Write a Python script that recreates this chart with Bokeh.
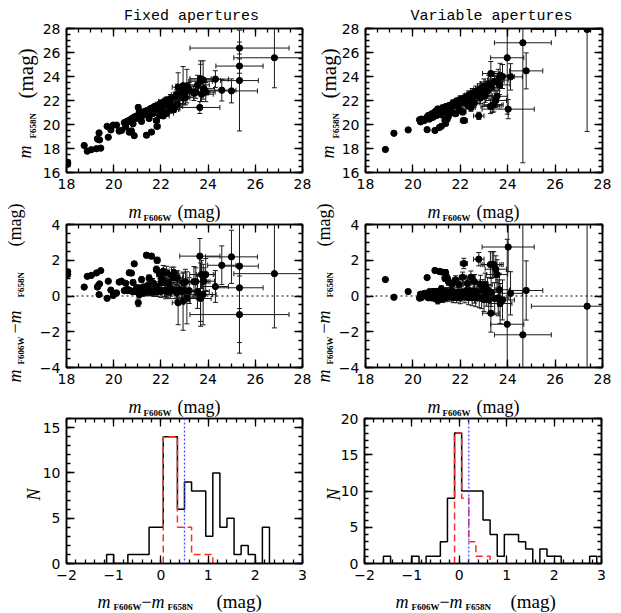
import numpy as np
from bokeh.plotting import figure
from bokeh.models import Label, LinearAxis, SingleIntervalTicker, Span, Range1d
from bokeh.embed import file_html
from bokeh.resources import INLINE

# ---------------- data: fixed apertures ----------------
fixed_m606 = [18.05, 18.05, 18.75, 18.88, 19.05, 19.27, 19.45, 19.33, 19.40, 19.38, 19.31, 19.72, 19.77, 19.88, 19.98, 20.12, 20.23, 20.33, 20.51, 20.45,
              20.51, 20.61, 20.66, 20.75, 20.87, 20.82, 20.97, 21.04, 21.08, 21.18, 21.28, 21.39, 21.60, 21.84, 21.50, 21.70, 21.81, 21.95, 22.10, 22.24, 22.03, 22.20, 22.38, 22.52, 22.55,
              20.60, 20.70, 20.80, 20.90, 21.00, 21.10, 21.15, 21.20, 21.25, 21.30, 21.35, 21.40, 21.45, 21.55, 21.60, 21.65, 21.75, 21.80, 21.85, 21.90, 22.00, 22.05, 22.15, 22.25, 22.30, 22.40, 22.45, 22.60, 22.70, 22.80, 22.90, 23.00, 22.95,
              22.66, 22.73, 22.87, 22.94, 23.04, 23.10, 23.48, 23.65, 23.72, 23.79, 23.68, 23.82, 23.90, 23.68, 24.31, 24.58, 24.99, 25.33, 25.33, 25.33, 26.81, 23.40, 23.55, 22.35, 23.20]
fixed_m658 = [16.70, 16.85, 18.25, 17.78, 17.90, 17.98, 18.03, 18.78, 18.72, 19.30, 18.81, 19.85, 18.94, 19.55, 19.95, 19.95, 19.45, 19.50, 19.80, 20.15,
              20.20, 20.25, 19.36, 19.47, 19.07, 20.06, 20.51, 21.42, 21.00, 20.26, 20.92, 19.11, 19.37, 19.84, 20.50, 21.43, 20.33, 20.75, 20.71, 20.94, 21.29, 21.93, 21.92, 21.51, 21.25,
              20.30, 20.40, 20.55, 20.65, 20.70, 20.85, 20.70, 20.95, 21.05, 20.80, 21.10, 21.15, 20.90, 21.30, 21.35, 20.90, 21.50, 21.25, 21.60, 21.55, 21.75, 21.10, 21.85, 22.00, 21.55, 22.15, 21.30, 22.30, 21.70, 22.45, 22.65, 22.70, 22.20,
              22.48, 23.11, 22.60, 23.23, 22.24, 23.20, 22.68, 21.42, 22.52, 23.71, 23.82, 22.99, 22.70, 23.60, 23.78, 22.86, 22.80, 26.37, 24.87, 23.66, 25.56, 22.60, 23.30, 21.95, 22.90]
fixed_e606 = [0, 0, 0, 0, 0, 0, 0, 0, 0, 0, 0, 0.03, 0.03, 0.03, 0.03, 0.03, 0.04, 0.04, 0.05, 0.05,
              0.05, 0.05, 0.05, 0.06, 0.06, 0.06, 0.07, 0.08, 0.08, 0.08, 0.09, 0.1, 0.1, 0.12, 0.1, 0.12, 0.12, 0.13, 0.25, 0.3, 0.14, 0.3, 0.35, 0.4, 0.2,
              0.05, 0.05, 0.06, 0.06, 0.07, 0.08, 0.08, 0.08, 0.09, 0.09, 0.1, 0.1, 0.1, 0.1, 0.11, 0.11, 0.12, 0.12, 0.12, 0.13, 0.14, 0.14, 0.15, 0.16, 0.3, 0.18, 0.35, 0.2, 0.22, 0.25, 0.25, 0.3, 0.28,
              0.22, 0.25, 0.25, 0.3, 0.35, 0.4, 0.6, 0.85, 0.5, 0.55, 0.45, 0.45, 0.4, 0.5, 0.55, 0.6, 1.1, 2.1, 1.0, 0.8, 1.72, 0.6, 0.5, 0.2, 0.4]
fixed_e658 = [0, 0, 0, 0, 0, 0, 0, 0, 0, 0, 0, 0.05, 0.05, 0.05, 0.05, 0.06, 0.06, 0.06, 0.07, 0.08,
              0.1, 0.1, 0.1, 0.1, 0.1, 0.12, 0.15, 0.2, 0.15, 0.12, 0.15, 0.1, 0.1, 0.12, 0.15, 0.2, 0.15, 0.2, 0.2, 0.2, 0.25, 0.3, 0.3, 0.25, 0.25,
              0.1, 0.1, 0.12, 0.12, 0.15, 0.15, 0.15, 0.18, 0.2, 0.15, 0.2, 0.2, 0.18, 0.2, 0.22, 0.2, 0.25, 0.22, 0.25, 0.25, 0.3, 0.25, 0.3, 0.3, 0.3, 0.35, 0.3, 0.4, 0.35, 0.45, 0.5, 0.5, 0.45,
              0.4, 1.2, 0.5, 1.6, 0.6, 1.4, 0.5, 0.5, 0.6, 1.6, 1.2, 0.6, 0.8, 1.7, 0.7, 0.9, 1.0, 0.5, 0.6, 4.2, 2.5, 0.6, 0.8, 0.3, 0.6]

# ---------------- data: variable apertures ----------------
var_m606 = [18.84, 19.20, 19.80, 20.28, 20.32, 20.36, 20.40, 20.60, 20.93, 21.12, 21.20,
            20.55, 20.65, 20.70, 20.80, 20.85, 20.95, 21.00, 21.05, 21.10, 21.15, 21.20, 21.25, 21.30, 21.35, 21.40, 21.45, 21.50, 21.55, 21.60, 21.65,
            21.70, 21.75, 21.80, 21.85, 21.90, 21.95, 22.00, 22.05, 22.10, 22.15, 22.20, 22.25, 22.30, 22.35, 22.40, 22.45, 22.50, 22.55, 22.60, 22.65,
            22.70, 22.78, 22.80, 22.85, 22.90, 22.95, 23.00, 23.05, 23.10, 23.15, 23.20, 23.29, 23.35, 23.27, 23.41, 23.45, 23.55, 23.60, 23.68, 23.78,
            23.98, 24.02, 24.12, 24.64, 24.78, 27.35, 21.38, 21.45,
            20.50, 20.60, 20.75, 20.90, 21.05, 21.20, 21.55, 21.70, 22.05, 22.35, 22.60, 23.30, 23.50, 23.65]
var_m658 = [17.92, 19.27, 19.55, 20.40, 20.22, 20.45, 20.30, 19.57, 19.50, 19.75, 19.85,
            20.50, 20.75, 20.45, 20.90, 20.60, 21.10, 20.75, 21.30, 20.95, 21.25, 20.80, 21.40, 21.05, 20.35, 21.50, 21.20, 20.70, 21.60, 21.35, 21.00,
            21.80, 21.55, 20.90, 21.95, 21.70, 21.30, 22.10, 21.85, 21.05, 20.33, 22.25, 21.95, 21.60, 22.45, 22.10, 21.40, 22.60, 22.30, 21.80, 22.75,
            22.45, 20.72, 22.90, 22.20, 23.00, 22.60, 23.20, 22.40, 23.00, 22.80, 23.40, 24.25, 21.60, 21.51, 21.65, 23.60, 22.35, 23.70, 24.10, 24.00,
            25.56, 21.28, 23.97, 26.81, 24.47, 27.92, 20.08, 20.45,
            20.35, 20.62, 20.78, 20.85, 21.00, 21.15, 21.50, 21.62, 22.00, 22.25, 22.55, 23.10, 22.00, 23.30]
var_e606 = [0, 0, 0, 0.04, 0.04, 0.04, 0.04, 0.05, 0.05, 0.06, 0.06,
            0.05, 0.05, 0.05, 0.06, 0.06, 0.06, 0.07, 0.07, 0.07, 0.08, 0.08, 0.08, 0.09, 0.09, 0.09, 0.1, 0.1, 0.1, 0.1, 0.11,
            0.11, 0.12, 0.12, 0.12, 0.13, 0.13, 0.14, 0.14, 0.14, 0.15, 0.15, 0.16, 0.16, 0.17, 0.18, 0.18, 0.19, 0.2, 0.2, 0.21,
            0.22, 0.22, 0.24, 0.24, 0.25, 0.26, 0.28, 0.3, 0.3, 0.32, 0.35, 0.35, 0.4, 0.4, 0.4, 0.4, 0.45, 0.45, 0.5, 0.5,
            0.7, 1.1, 0.5, 1.2, 0.7, 2.35, 0.1, 0.1,
            0.05, 0.05, 0.05, 0.06, 0.07, 0.08, 0.1, 0.11, 0.14, 0.17, 0.2, 0.35, 0.45, 0.45]
var_e658 = [0, 0, 0.03, 0.06, 0.06, 0.06, 0.07, 0.08, 0.08, 0.1, 0.1,
            0.1, 0.12, 0.1, 0.15, 0.12, 0.15, 0.15, 0.18, 0.15, 0.18, 0.15, 0.2, 0.18, 0.15, 0.2, 0.2, 0.18, 0.22, 0.2, 0.2,
            0.25, 0.22, 0.2, 0.25, 0.25, 0.22, 0.3, 0.28, 0.25, 0.25, 0.3, 0.3, 0.3, 0.35, 0.35, 0.3, 0.4, 0.4, 0.35, 0.45,
            0.45, 0.3, 0.5, 0.45, 0.55, 0.5, 0.6, 0.55, 0.6, 0.6, 0.7, 1.0, 0.6, 0.6, 0.6, 0.8, 0.7, 0.9, 1.0, 1.0,
            4.7, 0.8, 1.1, 10.0, 1.5, 8.5, 0.15, 0.15,
            0.1, 0.1, 0.12, 0.12, 0.15, 0.15, 0.2, 0.2, 0.3, 0.3, 0.4, 0.7, 0.6, 0.8]

# ---------------- data: colour histograms ----------------
hist_fixed_edges = [-1.15, -1.0, -0.85, -0.7, -0.55, -0.4, -0.25, -0.1, 0.05, 0.2, 0.35, 0.5, 0.65, 0.8, 0.95, 1.1, 1.25, 1.4, 1.55, 1.7, 1.85, 2.0, 2.15, 2.3]
hist_fixed_counts = [1, 0, 0, 1, 1, 1, 4, 4, 14, 14, 6, 9, 8, 8, 3, 10, 4, 5, 1, 2, 1, 0, 4]
hist_fixed_red_edges = [0.05, 0.2, 0.35, 0.5, 0.65, 0.8, 0.95, 1.1, 1.25]
hist_fixed_red_counts = [14, 14, 4, 4, 1, 1, 1, 0]
fixed_peak = 0.5

hist_var_edges = [-1.6, -1.45, -1.3, -1.15, -1.0, -0.85, -0.7, -0.55, -0.4, -0.25, -0.1, 0.05, 0.2, 0.35, 0.5, 0.65, 0.8, 0.95, 1.1, 1.25, 1.4, 1.55, 1.7, 1.85, 2.0, 2.15, 2.3, 2.45, 2.6, 2.75, 2.9]
hist_var_counts = [1, 0, 0, 0, 1, 0, 1, 1, 3, 9, 18, 10, 10, 10, 6, 4, 1, 4, 4, 3, 2, 0, 2, 1, 1, 0, 0, 0, 0, 1]
hist_var_red_edges = [-0.1, 0.05, 0.2, 0.35, 0.5, 0.65, 0.8]
hist_var_red_counts = [18, 9, 3, 1, 1, 0]
var_peak = 0.2

titles = ["Fixed apertures", "Variable apertures"]

# ---------------- page geometry ----------------
W, H = 621, 613
FRAMES = {(0, 0): (66, 28, 302, 172), (0, 1): (365, 28, 602, 172),
          (1, 0): (66, 224, 302, 367), (1, 1): (365, 224, 602, 367),
          (2, 0): (66, 418, 302, 563), (2, 1): (364, 418, 601, 563)}
SERIF = "Liberation Serif"
R90 = np.pi / 2
minus = {-4: "\u22124", -2: "\u22122", -1: "\u22121"}


class Panel:
    def __init__(self, row, col, xr, yr, xint, xminor, yint, yminor):
        l, t, r, b = FRAMES[(row, col)]
        self.box = (l, t, r, b)
        self.xr, self.yr = xr, yr
        p = figure(width=W, height=H, x_range=Range1d(*xr), y_range=Range1d(*yr),
                   toolbar_location=None, output_backend="svg", title_location=None,
                   min_border_left=l, min_border_top=t, min_border_right=W - r, min_border_bottom=H - b,
                   background_fill_color=None, border_fill_color=None)
        p.styles = {"position": "absolute", "left": "0px", "top": "0px"}
        p.grid.visible = False
        p.outline_line_color = "black"
        p.outline_line_width = 1.5
        top = LinearAxis()
        right = LinearAxis()
        p.add_layout(top, "above")
        p.add_layout(right, "right")
        for ax in p.xaxis:
            ax.ticker = SingleIntervalTicker(interval=xint, num_minor_ticks=xminor)
        for ax in p.yaxis:
            ax.ticker = SingleIntervalTicker(interval=yint, num_minor_ticks=yminor)
        for ax in p.axis:
            ax.axis_line_color = "black"
            ax.axis_line_width = 1.5
            ax.major_tick_in = 8
            ax.major_tick_out = 0
            ax.minor_tick_in = 4
            ax.minor_tick_out = 0
            ax.major_tick_line_color = "black"
            ax.minor_tick_line_color = "black"
            ax.major_tick_line_width = 1.3
            ax.minor_tick_line_width = 1.3
            ax.major_label_text_font = "DejaVu Sans"
            ax.major_label_text_font_size = "14px"
            ax.major_label_text_color = "black"
            ax.major_label_standoff = 6
            ax.major_label_overrides = minus
        for ax in (top, right):
            ax.major_label_text_font_size = "0px"
            ax.major_label_text_color = None
            ax.major_label_text_alpha = 0
            ax.major_label_standoff = 0
        self.p = p

    def txt(self, s, px, py, size, side, font=SERIF, style="normal", angle=0.0, align="left"):
        """Place a text at page pixel (px, py) (baseline start); hosted in a roomy side panel."""
        l, t, r, b = self.box
        x = self.xr[0] + (px - l) / (r - l) * (self.xr[1] - self.xr[0])
        y = self.yr[0] + (b - py) / (b - t) * (self.yr[1] - self.yr[0])
        self.p.add_layout(Label(x=x, y=y, text=s, text_font=font, text_font_size=f"{size}px",
                                text_font_style=style, angle=angle, text_align=align,
                                text_baseline="alphabetic", text_color="black"), side)


def errbars(p, x, y, ex, ey):
    col = "#1a1a1a"
    p.segment(x0=x - ex, y0=y, x1=x + ex, y1=y, line_color=col, line_width=1)
    p.segment(x0=x, y0=y - ey, x1=x, y1=y + ey, line_color=col, line_width=1)
    p.scatter(x=np.r_[x - ex, x + ex], y=np.r_[y, y], marker="dash", angle=R90, size=5,
              line_color=col, line_width=1)
    p.scatter(x=np.r_[x, x], y=np.r_[y - ey, y + ey], marker="dash", size=5,
              line_color=col, line_width=1)
    p.scatter(x=x, y=y, size=6.3, fill_color="black", line_color="black")


def hist_step(p, edges, counts, **kw):
    xs = [edges[0]] + list(edges)
    ys = [0] + list(counts) + [0]
    p.step(x=xs, y=ys, mode="after", **kw)


def xlabel_mag(P, dx, base, side):
    P.txt("m", 128 + dx, base, 18, side, style="italic")
    P.txt("F606W", 143 + dx, base + 6, 9, side, style="bold")
    P.txt("(mag)", 177 + dx, base, 18, side)


def xlabel_colour(P, xs, base, side):
    P.txt("m", xs[0], base, 18, side, style="italic")
    P.txt("F606W", xs[1], base + 5, 9, side, style="bold")
    P.txt("\u2212", xs[2], base, 18, side)
    P.txt("m", xs[3], base, 18, side, style="italic")
    P.txt("F658N", xs[4], base + 5, 9, side, style="bold")
    P.txt("(mag)", xs[5], base, 19, side)


datasets = [
    (fixed_m606, fixed_m658, fixed_e606, fixed_e658),
    (var_m606, var_m658, var_e606, var_e658),
]
hists = [
    (hist_fixed_edges, hist_fixed_counts, hist_fixed_red_edges, hist_fixed_red_counts, fixed_peak, 16),
    (hist_var_edges, hist_var_counts, hist_var_red_edges, hist_var_red_counts, var_peak, 20),
]
title_cx = [191, 491]
ylab_top = [24, 327]
ylab_mid = [14, 323]
ylab_bot = [33, 333]
xlab_dx = [0, 299]
xlab_col = [[97, 113, 141, 151, 167, 216], [395, 411, 439, 449, 465, 510]]

figs = []
for c in range(2):
    m606, m658, e606, e658 = (np.asarray(a, dtype=float) for a in datasets[c])
    colour = m606 - m658
    ecol = np.sqrt(e606 ** 2 + e658 ** 2)

    # --- magnitude vs magnitude
    P1 = Panel(0, c, (18, 28), (16, 28), 2, 4, 2, 4)
    errbars(P1.p, m606, m658, e606, e658)
    P1.txt(titles[c], title_cx[c], 16, 15, "below", font="Liberation Mono", align="center")
    xb = ylab_top[c]
    P1.txt("m", xb, 158, 18, "below", style="italic", angle=R90)
    P1.txt("F658N", xb + 8, 138, 9, "below", style="bold", angle=R90)
    P1.txt("(mag)", xb + 1, 98, 21, "below", angle=R90)
    xlabel_mag(P1, xlab_dx[c], 211, "below")

    # --- colour vs magnitude
    P2 = Panel(1, c, (18, 28), (-4, 4), 2, 4, 2, 4)
    P2.p.add_layout(Span(location=0, dimension="width", line_color="black", line_dash="2 3", line_width=1))
    errbars(P2.p, m606, colour, e606, ecol)
    xb = ylab_mid[c]
    P2.txt("m", xb, 382, 18, "above", style="italic", angle=R90)
    P2.txt("F606W", xb + 6, 364, 9, "above", style="bold", angle=R90)
    P2.txt("\u2212", xb, 333, 18, "above", angle=R90)
    P2.txt("m", xb, 323, 18, "above", style="italic", angle=R90)
    P2.txt("F658N", xb + 6, 297, 9, "above", style="bold", angle=R90)
    P2.txt("(mag)", xb, 246, 18, "above", angle=R90)
    xlabel_mag(P2, xlab_dx[c], 406, "below")

    # --- colour histogram
    edges, counts, redges, rcounts, peak, ymax = hists[c]
    P3 = Panel(2, c, (-2, 3), (0, ymax), 1, 5, 5, 5)
    hist_step(P3.p, edges, counts, line_color="black", line_width=1.5)
    hist_step(P3.p, redges, rcounts, line_color="#ff2a2a", line_width=1.5, line_dash="7 4")
    P3.p.add_layout(Span(location=peak, dimension="height", line_color="#4d4dff",
                         line_dash="2 2", line_width=1.3))
    P3.txt("N", ylab_bot[c], 500, 18, "above", style="italic", angle=R90)
    xlabel_colour(P3, xlab_col[c], 601, "above")

    figs.extend([P1.p, P2.p, P3.p])

open("out.html", "w").write(file_html(figs, INLINE))
